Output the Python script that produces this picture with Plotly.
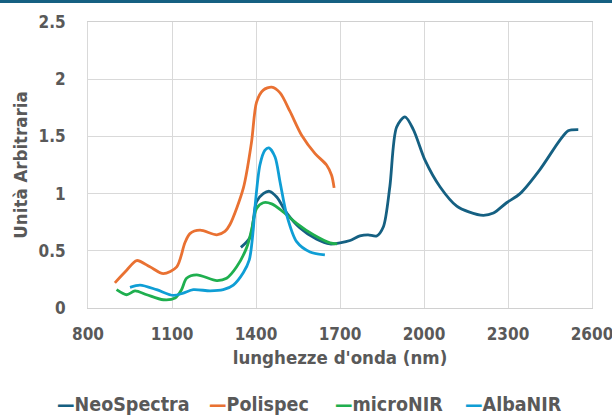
import plotly.graph_objects as go

# ---- data ----
neo_x = [1346, 1379, 1402, 1426, 1448, 1474, 1510, 1557, 1617, 1664, 1700, 1736, 1771, 1800, 1831,
         1855, 1878, 1902, 1932, 1962, 2004, 2057, 2117, 2160, 2212, 2248, 2295, 2343, 2414, 2486,
         2515, 2551]
neo_y = [0.53, 0.62, 0.93, 1.00, 1.02, 0.97, 0.83, 0.70, 0.60, 0.56, 0.57, 0.59, 0.63, 0.64, 0.63,
         0.71, 1.06, 1.58, 1.67, 1.56, 1.29, 1.06, 0.89, 0.84, 0.81, 0.83, 0.92, 1.00, 1.21, 1.47,
         1.55, 1.56]

poli_x = [896, 938, 974, 1021, 1069, 1117, 1146, 1164, 1200, 1260, 1289, 1307, 1355, 1384, 1402,
          1426, 1456, 1486, 1521, 1563, 1611, 1652, 1670, 1679]
poli_y = [0.22, 0.33, 0.415, 0.36, 0.30, 0.36, 0.57, 0.65, 0.68, 0.64, 0.67, 0.73, 1.05, 1.45, 1.80,
          1.905, 1.93, 1.88, 1.72, 1.51, 1.35, 1.25, 1.16, 1.05]

micro_x = [902, 938, 968, 1010, 1069, 1111, 1134, 1152, 1188, 1260, 1295, 1331, 1367, 1384, 1402,
           1426, 1456, 1497, 1545, 1605, 1664, 1690]
micro_y = [0.16, 0.116, 0.15, 0.116, 0.072, 0.087, 0.16, 0.26, 0.29, 0.24, 0.26, 0.36, 0.53, 0.68,
           0.87, 0.92, 0.91, 0.84, 0.74, 0.64, 0.57, 0.56]

alba_x = [950, 986, 1045, 1105, 1140, 1176, 1236, 1283, 1319, 1355, 1376, 1390, 1396, 1414, 1432,
          1446, 1468, 1486, 1510, 1545, 1593, 1646]
alba_y = [0.18, 0.20, 0.16, 0.11, 0.13, 0.16, 0.15, 0.16, 0.20, 0.31, 0.42, 0.68, 0.87, 1.25, 1.38,
          1.40, 1.32, 1.10, 0.81, 0.58, 0.49, 0.465]

series_names = ["NeoSpectra", "Polispec", "microNIR", "AlbaNIR"]
series_x = [neo_x, poli_x, micro_x, alba_x]
series_y = [neo_y, poli_y, micro_y, alba_y]
series_colors = ["#156082", "#E97132", "#1FAF4F", "#0F9ED5"]

x_ticks = [800, 1100, 1400, 1700, 2000, 2300, 2600]
y_ticks = [0, 0.5, 1, 1.5, 2, 2.5]
y_tick_labels = ["0", "0.5", "1", "1.5", "2", "2.5"]

FONT = "DejaVu Sans Condensed"
GREY = "#595959"

fig = go.Figure()
for name, xs, ys, col in zip(series_names, series_x, series_y, series_colors):
    fig.add_trace(go.Scatter(x=xs, y=ys, name=name, mode="lines", showlegend=False,
                             line=dict(color=col, width=2.8, shape="spline", smoothing=0.8)))

W, H = 612, 417
ml, mr, mt, mb = 88, 20, 22, 109
ph = H - mt - mb
pw = W - ml - mr

fig.update_layout(
    width=W, height=H,
    margin=dict(l=ml, r=mr, t=mt, b=mb, autoexpand=False),
    paper_bgcolor="white", plot_bgcolor="white",
    font=dict(family=FONT, color=GREY, size=17, weight="bold"),
    showlegend=False,
    xaxis=dict(range=[800, 2600], tickvals=x_ticks, ticktext=[str(v) for v in x_ticks],
               showgrid=True, gridcolor="#d9d9d9", gridwidth=1,
               showline=True, linecolor="#d0d0d0", mirror=True, zeroline=False,
               ticks="outside", ticklen=11, tickcolor="rgba(0,0,0,0)",
               ticklabeloverflow="allow",
               tickfont=dict(size=17, family=FONT, color=GREY, weight="bold"),
               title=dict(text="lunghezze d'onda (nm)", standoff=7,
                          font=dict(size=18.5, family=FONT, color=GREY, weight="bold"))),
    yaxis=dict(range=[0, 2.5], tickvals=y_ticks, ticktext=y_tick_labels,
               showgrid=True, gridcolor="#d9d9d9", gridwidth=1,
               showline=True, linecolor="#d9d9d9", mirror=True, zeroline=False,
               ticks="outside", ticklen=18, tickcolor="rgba(0,0,0,0)",
               tickfont=dict(size=17, family=FONT, color=GREY, weight="bold"),
               title=dict(text="Unità Arbitraria", standoff=6,
                          font=dict(size=18.5, family=FONT, color=GREY, weight="bold"))),
)

# legend drawn as text entries (short dash + name), as in the reference
legend_left_px = [55, 207, 333, 463]
for name, col, lx in zip(series_names, series_colors, legend_left_px):
    fig.add_annotation(xref="paper", yref="paper", x=(lx - ml) / pw, y=(308.3 - 405) / ph,
                       xanchor="left", yanchor="middle", showarrow=False,
                       text=f"<span style='color:{col}'>—</span>{name}",
                       font=dict(size=19.5, family=FONT, color=GREY, weight="bold"))

# dark top border band
fig.add_shape(type="rect", xref="paper", yref="paper",
              x0=-ml / pw, x1=1 + mr / pw, y0=1 + (mt - 3) / ph, y1=1 + (mt + 2) / ph,
              fillcolor="#156082", line=dict(width=0), layer="above")

fig.write_html("out.html", config={"displayModeBar": False},
               post_script="document.body.style.margin='0';document.body.style.overflow='hidden';")
